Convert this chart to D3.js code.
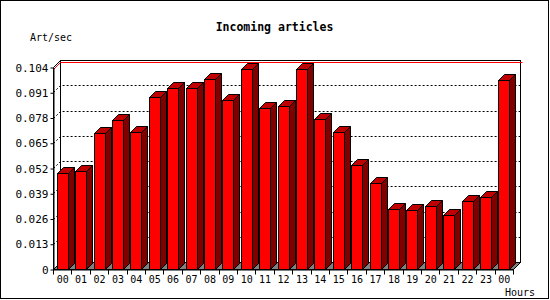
<!DOCTYPE html>
<html>
<head>
<meta charset="utf-8">
<script src="https://cdn.jsdelivr.net/npm/d3@7"></script>
<style>
  body { margin: 0; background: #fff; }
  text { font-family: "DejaVu Sans Mono", monospace; fill: #000; }
</style>
</head>
<body>
<div id="chart"></div>
<script>
// hourly incoming articles, 3d bar look like the old inn stats graphs
const svgWidth = 550;
const svgHeight = 300;

const hours = ["00", "01", "02", "03", "04", "05", "06", "07", "08", "09", "10", "11",
               "12", "13", "14", "15", "16", "17", "18", "19", "20", "21", "22", "23", "00"];
const artPerSec = [0.0492, 0.0507, 0.0698, 0.0765, 0.0703, 0.0888, 0.0934, 0.0930, 0.0976, 0.0871,
                   0.1030, 0.0831, 0.0837, 0.1030, 0.0773, 0.0706, 0.0536, 0.0444, 0.0311, 0.0306,
                   0.0325, 0.0279, 0.0348, 0.0372, 0.0971];
const yTicks = [0, 0.013, 0.026, 0.039, 0.052, 0.065, 0.078, 0.091, 0.104];
const yMax = 0.104;

// front plane of the box, and the depth offset for the back wall
const plot = { left: 53.5, right: 513.5, top: 67.5, bottom: 269.5 };
const depth = 7;
const barDepth = 6;

const svg = d3.select("#chart")
    .append("svg")
    .attr("width", svgWidth)
    .attr("height", svgHeight);

// outer frame
svg.append("rect")
    .attr("x", 0.5).attr("y", 0.5)
    .attr("width", svgWidth - 2).attr("height", svgHeight - 2)
    .attr("fill", "#fff")
    .attr("stroke", "#000");

const x = d3.scaleBand()
    .domain(d3.range(hours.length))
    .range([plot.left, plot.right]);

const y = d3.scaleLinear()
    .domain([0, yMax])
    .range([plot.bottom, plot.top]);

const snap = v => Math.floor(v) + 0.5;

// back wall
svg.append("rect")
    .attr("x", plot.left + depth)
    .attr("y", plot.top - depth)
    .attr("width", plot.right - plot.left)
    .attr("height", plot.bottom - plot.top)
    .attr("fill", "#fff")
    .attr("stroke", "#000");

// left wall
svg.append("path")
    .attr("d", `M${plot.left},${plot.bottom} L${plot.left},${plot.top} L${plot.left + depth},${plot.top - depth} L${plot.left + depth},${plot.bottom - depth} Z`)
    .attr("fill", "#fff")
    .attr("stroke", "#000");

// floor
svg.append("path")
    .attr("d", `M${plot.left},${plot.bottom} L${plot.right},${plot.bottom} L${plot.right + depth},${plot.bottom - depth} L${plot.left + depth},${plot.bottom - depth} Z`)
    .attr("fill", "#808080")
    .attr("stroke", "#000");

// dotted grid, runs up the left wall then across the back
function wallLine(v) {
    const yy = snap(y(v));
    return `M${plot.left},${yy} L${plot.left + depth},${yy - depth} L${plot.right + depth + 2},${yy - depth}`;
}

svg.append("g")
    .selectAll("path")
    .data(yTicks.filter(v => v > 0 && v < yMax))
    .enter()
    .append("path")
    .attr("d", d => wallLine(d))
    .attr("fill", "none")
    .attr("stroke", "#000")
    .attr("stroke-dasharray", "2,2");

// red line at the maximum value
svg.append("path")
    .attr("d", wallLine(d3.max(artPerSec)))
    .attr("fill", "none")
    .attr("stroke", "#ff0000");

// bars
const bars = svg.append("g")
    .selectAll("g")
    .data(artPerSec)
    .enter()
    .append("g");

const bw = x.bandwidth();
const frontL = i => Math.round(x(i) + bw * 0.18) + 0.5;
const frontR = i => Math.round(x(i) + bw * 0.18 + bw * 0.6) + 0.5;

bars.append("rect")
    .attr("x", (d, i) => frontL(i))
    .attr("y", d => snap(y(d)))
    .attr("width", (d, i) => frontR(i) - frontL(i))
    .attr("height", d => plot.bottom - snap(y(d)))
    .attr("fill", "#ff0000")
    .attr("stroke", "#000");

bars.append("path")
    .attr("d", (d, i) => {
        const t = snap(y(d)), r = frontR(i);
        return `M${r},${plot.bottom} L${r},${t} L${r + barDepth},${t - barDepth} L${r + barDepth},${plot.bottom - barDepth} Z`;
    })
    .attr("fill", "#800000")
    .attr("stroke", "#000");

bars.append("path")
    .attr("d", (d, i) => {
        const t = snap(y(d)), l = frontL(i), r = frontR(i);
        return `M${l},${t} L${l + barDepth},${t - barDepth} L${r + barDepth},${t - barDepth} L${r},${t} Z`;
    })
    .attr("fill", "#c00000")
    .attr("stroke", "#000");

// axes
const yAxis = svg.append("g")
    .attr("transform", `translate(${plot.left},0)`)
    .call(d3.axisLeft(y)
        .tickValues(yTicks)
        .tickFormat(d => d === 0 ? "0" : d3.format(".3f")(d))
        .tickSize(3)
        .tickSizeOuter(0)
        .tickPadding(2));
yAxis.selectAll("text").style("font-size", "11px");

const xAxis = svg.append("g")
    .attr("transform", `translate(0,${plot.bottom})`)
    .call(d3.axisBottom(x)
        .tickFormat(i => hours[i])
        .tickSize(0)
        .tickSizeOuter(0)
        .tickPadding(6));
xAxis.selectAll("text").style("font-size", "10px");

// tick marks sit on the band edges, labels in the middle
xAxis.selectAll(".edge")
    .data(d3.range(hours.length + 1))
    .enter()
    .append("line")
    .attr("class", "edge")
    .attr("x1", i => snap(plot.left + i * x.step()))
    .attr("x2", i => snap(plot.left + i * x.step()))
    .attr("y1", 0)
    .attr("y2", 5)
    .attr("stroke", "#000");

svg.selectAll(".domain").attr("stroke", "#000");

// labels
svg.append("text")
    .text("Incoming articles")
    .attr("x", 274.5)
    .attr("y", 31)
    .attr("text-anchor", "middle")
    .style("font-size", "11.5px")
    .style("font-weight", "bold");

svg.append("text")
    .text("Art/sec")
    .attr("x", 30)
    .attr("y", 40.5)
    .style("font-size", "10px");

svg.append("text")
    .text("Hours")
    .attr("x", 505)
    .attr("y", 295.5)
    .style("font-size", "10px");
</script>
</body>
</html>
